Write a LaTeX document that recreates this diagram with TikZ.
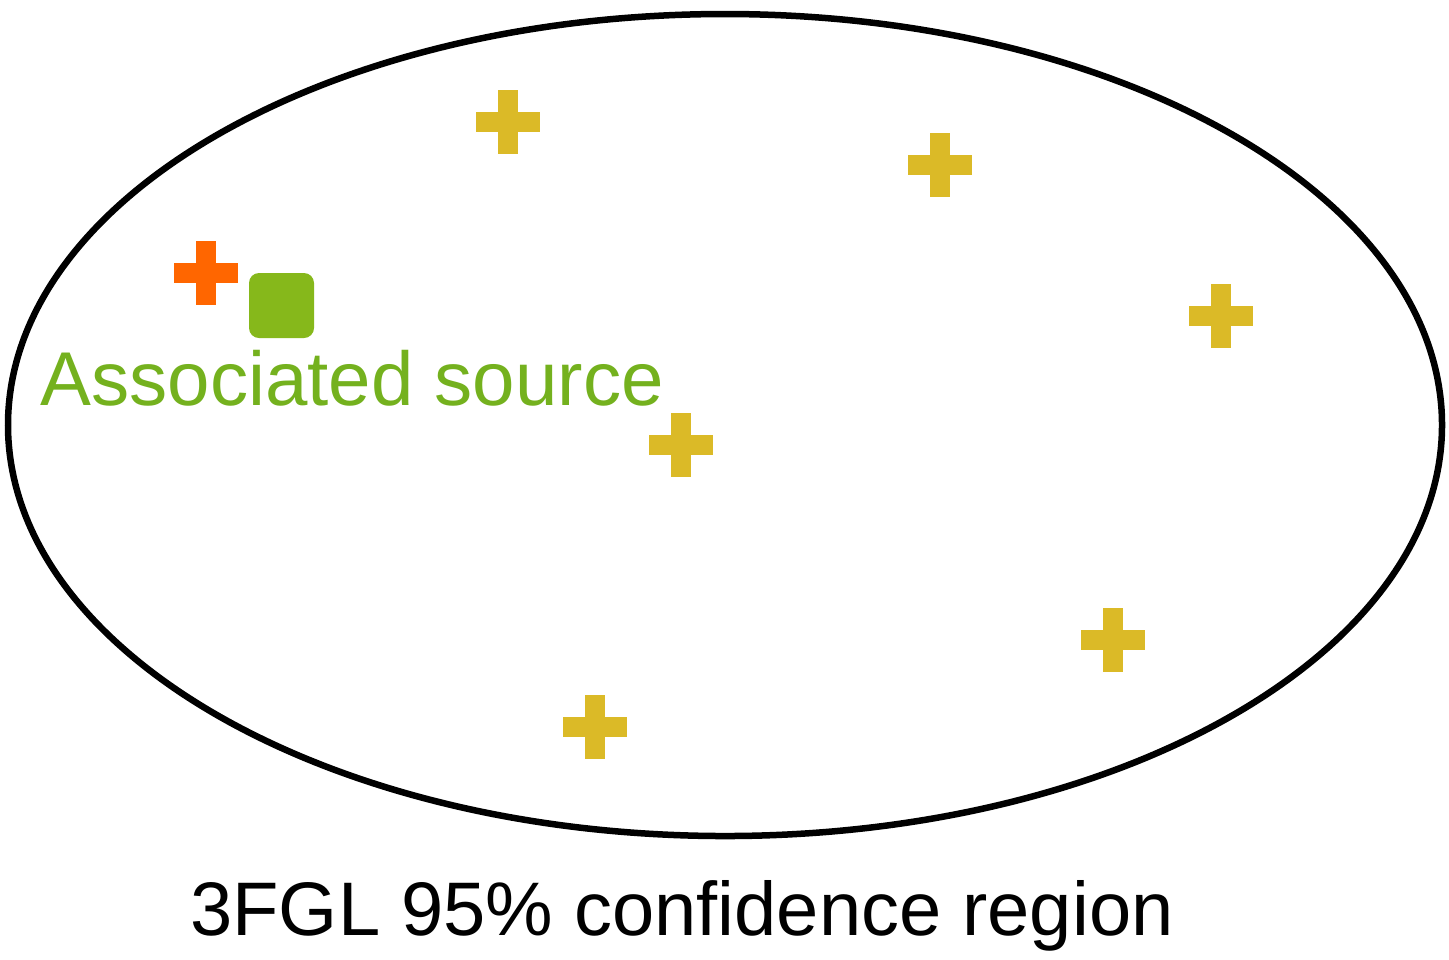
\documentclass[tikz,border=0pt]{standalone}
\usepackage{fontspec}
\setmainfont{Liberation Sans}
\usepackage{tikz}

\definecolor{candyellow}{HTML}{DBBA27}
\definecolor{assocorange}{HTML}{FF6600}
\definecolor{assocgreen}{HTML}{86B81B}
\definecolor{labelgreen}{HTML}{74B11E}

\tikzset{
  plusmark/.pic={
    \fill (-32,-10) rectangle (32,10);
    \fill (-10,-32) rectangle (10,32);
  }
}

\begin{document}
\begin{tikzpicture}[x=0.1mm, y=-0.1mm]
  \useasboundingbox (0,0) rectangle (1449,959);
  % 95% region
  \draw[line width=0.65mm] (725,425) ellipse [x radius=717, y radius=411];
  % candidate sources
  \foreach \px/\py in {508/122, 940/165, 1221/316, 681/445, 1113/640, 595/727}
    \pic[candyellow] at (\px,\py) {plusmark};
  \pic[assocorange] at (206,273) {plusmark};
  \fill[assocgreen, rounded corners=1mm] (249,273) rectangle (314,338);
  \node[anchor=base west, inner sep=0pt, text=labelgreen,
        font=\fontsize{21.7pt}{26pt}\selectfont] (assoc) at (40,405) {Associated source};
  \node[anchor=base, inner sep=0pt,
        font=\fontsize{21.6pt}{26pt}\selectfont] (region) at (682,935) {3FGL 95\% confidence region};
\end{tikzpicture}
\end{document}
